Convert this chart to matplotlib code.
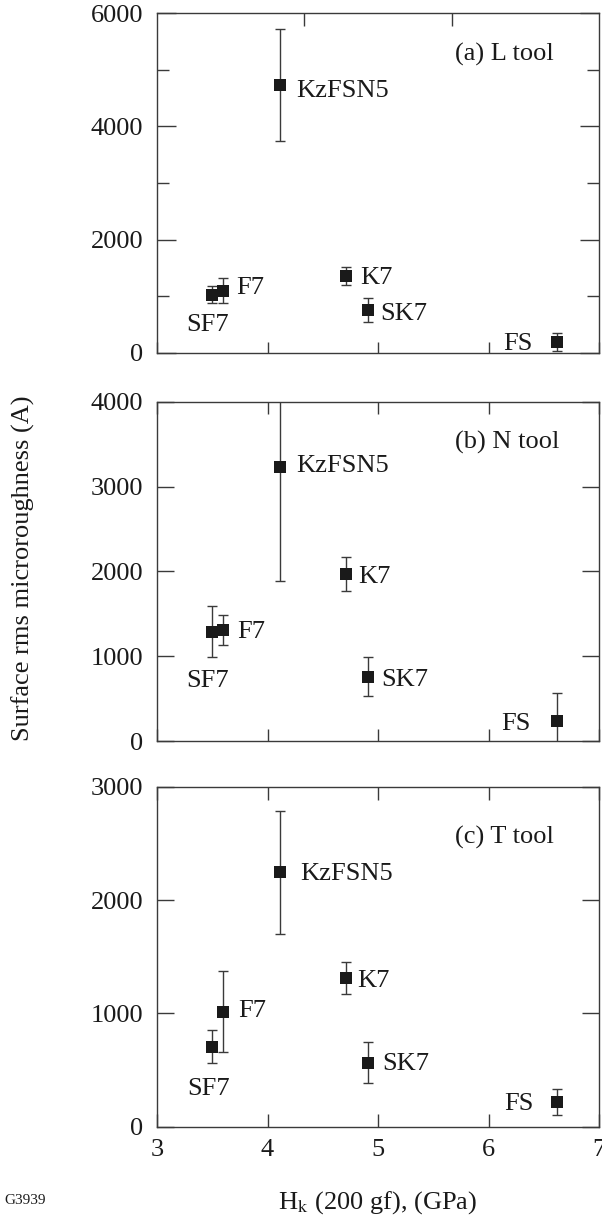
import matplotlib
matplotlib.use("Agg")
import matplotlib.pyplot as plt
from matplotlib.ticker import FixedLocator, NullFormatter

plt.rcParams["font.family"] = ["Liberation Serif", "DejaVu Serif"]
plt.rcParams["mathtext.fontset"] = "stix"

# Glass samples and Knoop hardness Hk (GPa)
glasses = ["SF7", "F7", "KzFSN5", "K7", "SK7", "FS"]
hardness = [3.50, 3.60, 4.11, 4.71, 4.91, 6.62]

# Surface rms microroughness (A) for each tool, with error half-widths
rough_L = [1030, 1100, 4730, 1360, 760, 200]
err_L = [150, 215, 990, 165, 215, 160]
rough_N = [1290, 1310, 3235, 1970, 760, 230]
err_N = [305, 180, 1350, 200, 225, 340]
rough_T = [705, 1015, 2245, 1310, 565, 220]
err_T = [147, 360, 545, 140, 180, 113]

panel_titles = ["(a) L tool", "(b) N tool", "(c) T tool"]
x_ticks = [3, 4, 5, 6, 7]

FS = 19
INK = "#1a1a1a"
LINE = "#3a3a3a"

fig = plt.figure(figsize=(6.02, 12.19), dpi=100)
W, H = 602.0, 1219.0


def axes_at(left, top, right, bottom):
    return fig.add_axes([left / W, 1 - bottom / H, (right - left) / W, (bottom - top) / H])


ax1 = axes_at(157, 13, 599, 353)
ax2 = axes_at(157, 401.7, 599, 741)
ax3 = axes_at(157, 786.7, 599, 1126.7)

# label offsets in pixels (dx, dy, horizontal alignment) for each glass
label_layout = [
    {"SF7": (-5, -28, "center"), "F7": (13, 5, "left"), "KzFSN5": (17, -4, "left"),
     "K7": (14, 0, "left"), "SK7": (12, -2, "left"), "FS": (-24, 0, "right")},
    {"SF7": (-5, -47, "center"), "F7": (14, 0, "left"), "KzFSN5": (17, 3, "left"),
     "K7": (12, -1, "left"), "SK7": (13, -1, "left"), "FS": (-26, 0, "right")},
    {"SF7": (-4, -40, "center"), "F7": (15, 3, "left"), "KzFSN5": (21, 1, "left"),
     "K7": (11, 0, "left"), "SK7": (14, 1, "left"), "FS": (-23, 0, "right")},
]
title_pos = [(0.674, 0.885), (0.674, 0.889), (0.674, 0.858)]

panels = [
    (ax1, rough_L, err_L, 6000),
    (ax2, rough_N, err_N, 4000),
    (ax3, rough_T, err_T, 3000),
]

for i, (ax, vals, errs, ymax) in enumerate(panels):
    ax.errorbar(hardness, vals, yerr=errs, fmt="none", ecolor=LINE,
                elinewidth=1.0, capsize=3.3, capthick=1.0, zorder=2)
    ax.plot(hardness, vals, "s", color=INK, markersize=8.6,
            markeredgewidth=0, zorder=3)
    ax.set_xlim(3, 7)
    ax.set_ylim(0, ymax)
    for name, x, y in zip(glasses, hardness, vals):
        dx, dy, ha = label_layout[i][name]
        ax.annotate(name, (x, y), xytext=(dx * 0.72, dy * 0.72),
                    textcoords="offset points", ha=ha, va="center_baseline",
                    fontsize=FS, color=INK)
    tx, ty = title_pos[i]
    ax.text(tx, ty, panel_titles[i], transform=ax.transAxes, ha="left",
            va="center_baseline", fontsize=FS, color=INK)
    for sp in ax.spines.values():
        sp.set_color(LINE)
        sp.set_linewidth(1.0)
    ax.tick_params(axis="both", which="both", direction="in", color=LINE,
                   width=1.0, labelsize=FS, labelcolor=INK)
    ax.tick_params(axis="y", which="both", left=True, right=True, pad=10)
    ax.tick_params(axis="x", which="both", bottom=True, pad=9)

# (a) panel: major and minor y ticks; top ticks at thirds of the range
ax1.yaxis.set_major_locator(FixedLocator([0, 2000, 4000, 6000]))
ax1.yaxis.set_minor_locator(FixedLocator([1000, 3000, 5000]))
ax1.tick_params(axis="y", which="major", length=13.7)
ax1.tick_params(axis="y", which="minor", length=8.4)
ax1.xaxis.set_major_locator(FixedLocator(x_ticks))
ax1.tick_params(axis="x", which="major", length=8.0, top=False, labelbottom=False)
top1 = ax1.secondary_xaxis("top")
top1.set_xticks([3 + 4 / 3, 3 + 8 / 3])
top1.xaxis.set_major_formatter(NullFormatter())
top1.tick_params(direction="in", length=9.4, width=1.0, color=LINE)
top1.spines["top"].set_visible(False)

# (b) panel
ax2.yaxis.set_major_locator(FixedLocator([0, 1000, 2000, 3000, 4000]))
ax2.tick_params(axis="y", which="major", length=12.2)
ax2.xaxis.set_major_locator(FixedLocator(x_ticks))
ax2.tick_params(axis="x", which="major", length=8.6, top=True, labelbottom=False)

# (c) panel
ax3.yaxis.set_major_locator(FixedLocator([0, 1000, 2000, 3000]))
ax3.tick_params(axis="y", which="major", length=12.2)
ax3.xaxis.set_major_locator(FixedLocator(x_ticks))
ax3.tick_params(axis="x", which="major", length=9.4, top=True)

fig.text(23 / W, 1 - 568 / H, "Surface rms microroughness (A)", rotation=90,
         ha="center", va="center", fontsize=FS, color=INK)
fig.text(378 / W, 1 - 1199 / H, r"H$_\mathrm{k}$ (200 gf), (GPa)",
         ha="center", va="center_baseline", fontsize=FS, color=INK)
fig.text(4 / W, 1 - 1199 / H, "G3939", ha="left", va="center_baseline",
         fontsize=11, color=INK)

fig.savefig("out.png", dpi=100, facecolor="white")
